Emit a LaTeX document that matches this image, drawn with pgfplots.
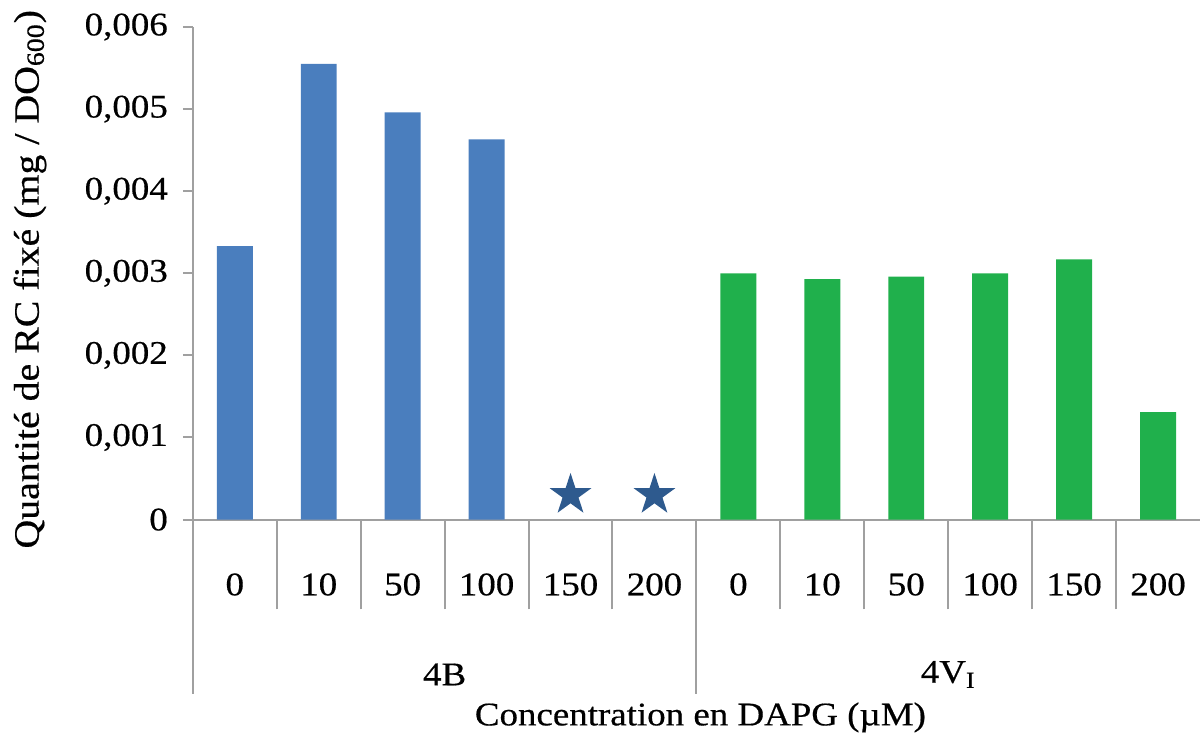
\documentclass[border=0pt]{standalone}
\usepackage{fontspec}
\setmainfont{Liberation Serif}[FakeStretch=1.12, FakeBold=0.5]
\usepackage{pgfplots}
\pgfplotsset{compat=1.18}
\definecolor{barblue}{HTML}{4A7EBE}
\definecolor{bargreen}{HTML}{20B04C}
\definecolor{starblue}{HTML}{2E5A8E}
\definecolor{axgray}{HTML}{A0A0A0}
\newcommand\chartfont{\fontsize{16.5}{20}\selectfont}
\pgfdeclareplotmark{filledstar}{%
  \pgfpathmoveto{\pgfpointpolar{90}{\pgfplotmarksize}}%
  \pgfpathlineto{\pgfpointpolar{126}{0.382\pgfplotmarksize}}%
  \pgfpathlineto{\pgfpointpolar{162}{\pgfplotmarksize}}%
  \pgfpathlineto{\pgfpointpolar{198}{0.382\pgfplotmarksize}}%
  \pgfpathlineto{\pgfpointpolar{234}{\pgfplotmarksize}}%
  \pgfpathlineto{\pgfpointpolar{270}{0.382\pgfplotmarksize}}%
  \pgfpathlineto{\pgfpointpolar{306}{\pgfplotmarksize}}%
  \pgfpathlineto{\pgfpointpolar{342}{0.382\pgfplotmarksize}}%
  \pgfpathlineto{\pgfpointpolar{18}{\pgfplotmarksize}}%
  \pgfpathlineto{\pgfpointpolar{54}{0.382\pgfplotmarksize}}%
  \pgfpathclose
  \pgfusepathqfill}
\begin{document}
\begin{tikzpicture}
\begin{axis}[
  scale only axis,
  width=504pt, height=246.5pt,
  xmin=-0.5, xmax=11.5, ymin=0, ymax=0.006,
  axis x line=bottom, axis y line=left,
  axis line style={axgray, line width=1pt, -},
  tick style={axgray, line width=1pt},
  ytick={0,0.001,0.002,0.003,0.004,0.005,0.006},
  yticklabels={0,{0,001},{0,002},{0,003},{0,004},{0,005},{0,006}},
  scaled y ticks=false,
  ytick align=outside, major tick length=5pt,
  yticklabel style={font=\chartfont, xshift=-4pt},
  xtick={0,1,2,3,4,5,6,7,8,9,10,11},
  xticklabels={0,10,50,100,150,200,0,10,50,100,150,200},
  x tick style={draw=none},
  xticklabel style={font=\chartfont, anchor=center, yshift=-27.5pt},
  minor xtick={-0.5,0.5,1.5,2.5,3.5,4.5,5.5,6.5,7.5,8.5,9.5,10.5},
  minor x tick style={draw=axgray, line width=1pt},
  xtick align=outside,
  minor tick length=45pt,
  every axis y label/.style={at={(rel axis cs:0,0.5)}, xshift=-81.5pt, yshift=-3pt, rotate=90, anchor=center, font=\fontsize{17.8}{21}\selectfont},
  ylabel={Quantité de RC fixé (mg / DO\textsubscript{600})},
  every axis x label/.style={at={(rel axis cs:0.5,0)}, anchor=center, yshift=-99pt, xshift=2pt, font=\chartfont},
  xlabel={Concentration en DAPG (µM)},
  clip=false,
]
\addplot[ybar, bar width=18pt, bar shift=0pt, fill=barblue, draw=none]
  coordinates {(0,0.00333) (1,0.00555) (2,0.00496) (3,0.00463)};
\addplot[ybar, bar width=18pt, bar shift=0pt, fill=bargreen, draw=none]
  coordinates {(6,0.00300) (7,0.00293) (8,0.00296) (9,0.00300) (10,0.00317) (11,0.00131)};
\addplot[only marks, mark=filledstar, mark size=11pt, color=starblue]
  coordinates {(4,0.0003) (5,0.0003)};
\draw[axgray, line width=1pt] (axis cs:-0.5,0) -- ([yshift=-87.5pt]axis cs:-0.5,0);
\draw[axgray, line width=1pt] (axis cs:5.5,0) -- ([yshift=-87.5pt]axis cs:5.5,0);
\node[font=\chartfont] at (axis cs:2.5,0) [yshift=-77.5pt] {4B};
\node[font=\chartfont] at (axis cs:8.5,0) [yshift=-77.5pt] {4V\textsubscript{I}};
\path ([xshift=-96.5pt, yshift=13.5pt]rel axis cs:0,1) ([yshift=-109pt]rel axis cs:1,0);
\end{axis}
\end{tikzpicture}
\end{document}
